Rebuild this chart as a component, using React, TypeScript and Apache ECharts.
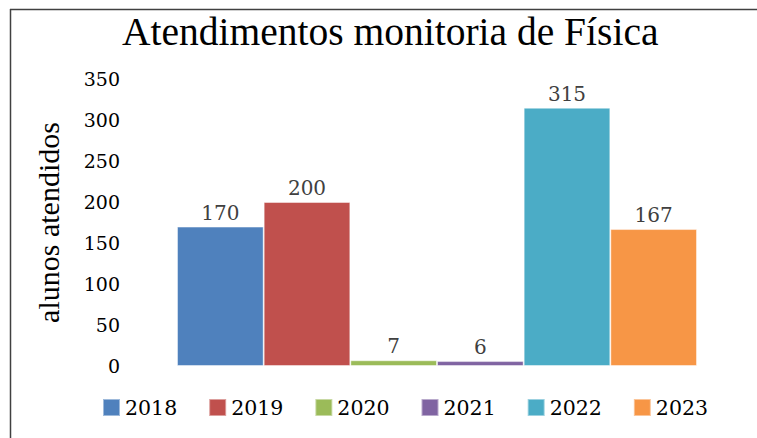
import React, { useEffect, useRef } from "react";
import * as echarts from "echarts";

const categories = ["Atendimentos"];
const years = ["2018", "2019", "2020", "2021", "2022", "2023"];
const values = [170, 200, 7, 6, 315, 167];
const colors = ["#4F81BD", "#C0504D", "#9BBB59", "#8064A2", "#4BACC6", "#F79646"];
const yTicks = { min: 0, max: 350, interval: 50 };

const SERIF = "'Liberation Serif', serif";
const DV = "'DejaVu Serif', serif";

export default function App() {
  const ref = useRef<HTMLDivElement>(null);
  useEffect(() => {
    document.body.style.margin = "0";
    const chart = echarts.init(ref.current!, null, { renderer: "svg" });
    chart.setOption({
      animation: false,
      backgroundColor: "#ffffff",
      textStyle: { fontFamily: SERIF },
      title: {
        text: "Atendimentos monitoria de Física",
        left: 117,
        top: 7,
        textStyle: { fontFamily: SERIF, fontSize: 39.5, fontWeight: "normal", color: "#000000" },
      },
      legend: {
        left: 97,
        top: 392,
        itemWidth: 17,
        itemHeight: 17,
        itemGap: 31,
        icon: "rect",
        textStyle: { fontFamily: DV, fontSize: 20.5, color: "#000000" },
        data: years,
      },
      grid: { left: 177, right: 60, top: 79, bottom: 72, containLabel: false },
      xAxis: {
        type: "category",
        data: categories,
        axisLine: { show: false },
        axisTick: { show: false },
        axisLabel: { show: false },
      },
      yAxis: {
        type: "value",
        min: yTicks.min,
        max: yTicks.max,
        interval: yTicks.interval,
        name: "alunos atendidos",
        nameLocation: "middle",
        nameGap: 114,
        nameTextStyle: { fontFamily: SERIF, fontSize: 30, color: "#000000" },
        axisLine: { show: false },
        axisTick: { show: false },
        splitLine: { show: false },
        axisLabel: { fontFamily: DV, fontSize: 19, color: "#000000", margin: 57 },
      },
      series: years.map((y, i) => ({
        name: y,
        type: "bar",
        data: [values[i]],
        barGap: "0%",
        barCategoryGap: "0%",
        itemStyle: { color: colors[i], borderColor: "rgba(255,255,255,0.45)", borderWidth: 1 },
        label: {
          show: true,
          position: "top",
          distance: 4,
          fontFamily: DV,
          fontSize: 20,
          color: "#404040",
        },
      })),
      graphic: [
        { type: "line", shape: { x1: 10, y1: 9.5, x2: 757, y2: 9.5 }, style: { stroke: "#404040", lineWidth: 1.5 } },
        { type: "line", shape: { x1: 10.5, y1: 9, x2: 10.5, y2: 438 }, style: { stroke: "#404040", lineWidth: 1.5 } },
      ],
    });
    return () => chart.dispose();
  }, []);
  return <div ref={ref} style={{ position: "absolute", left: 0, top: 0, width: 757, height: 438 }} />;
}
